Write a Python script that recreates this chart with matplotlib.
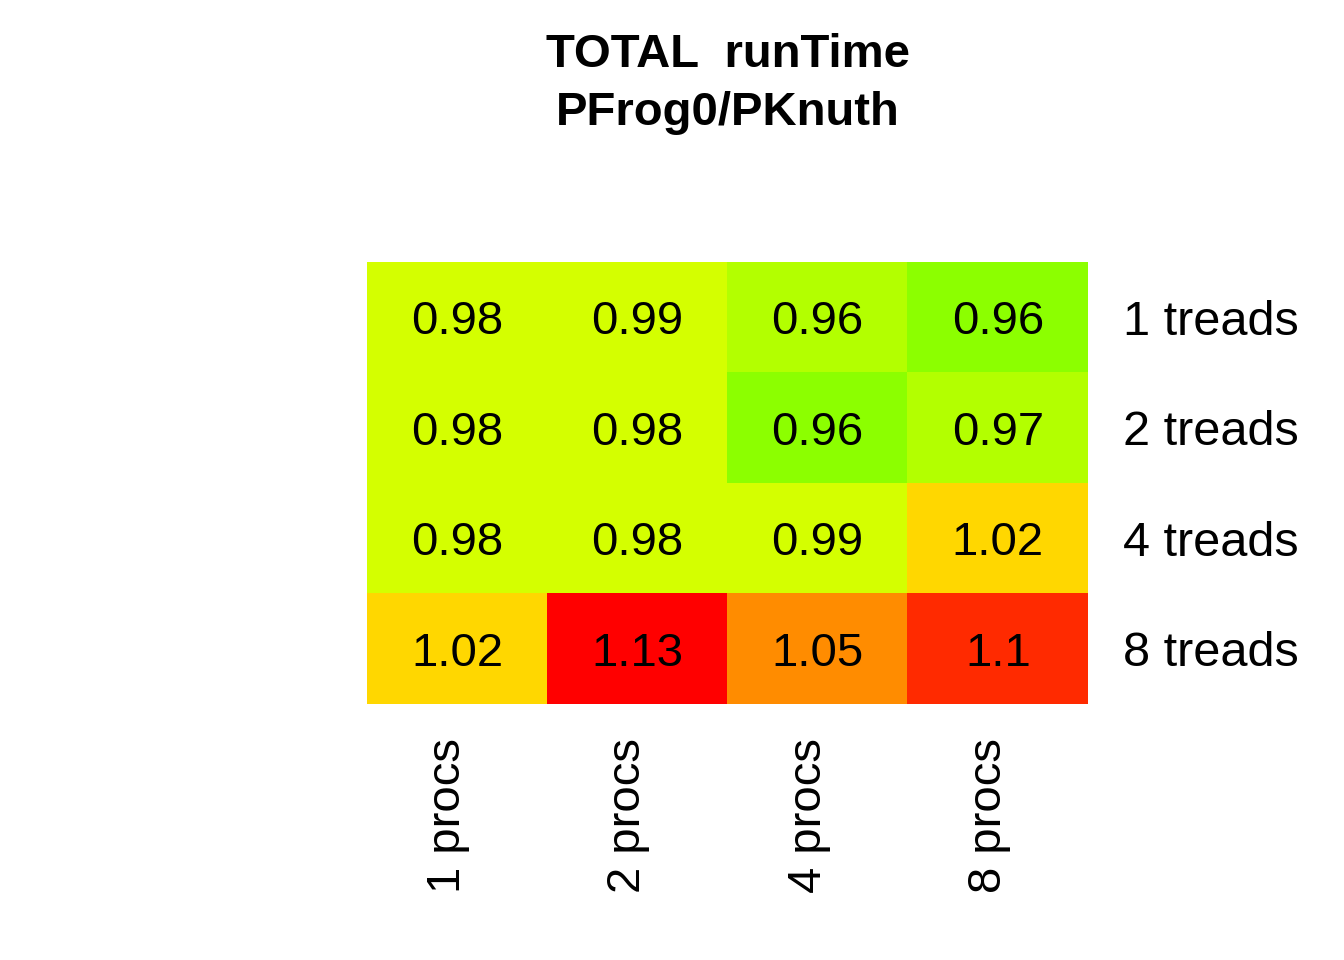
import numpy as np
import matplotlib.pyplot as plt
import matplotlib.transforms as mtransforms
from matplotlib.colors import ListedColormap, BoundaryNorm

plt.rcParams['font.family'] = ['Liberation Sans', 'DejaVu Sans']

# data (rows top->bottom, cols left->right)
procs = ['1 procs', '2 procs', '4 procs', '8 procs']
treads = ['1 treads', '2 treads', '4 treads', '8 treads']
runtime = np.array([
    [0.980, 0.990, 0.962, 0.958],
    [0.980, 0.980, 0.957, 0.970],
    [0.980, 0.980, 0.990, 1.020],
    [1.020, 1.130, 1.050, 1.100],
])

# binned green -> yellow -> red palette
pal = ['#8CFF00', '#B3FF00', '#D4FF00', '#FFD700', '#FF8C00', '#FF2A00', '#FF0000']
bounds = [0.90, 0.96, 0.975, 1.0, 1.03, 1.07, 1.11, 1.20]
cmap = ListedColormap(pal)
norm = BoundaryNorm(bounds, cmap.N)

fig = plt.figure(figsize=(13.44, 9.6), dpi=100)
ax = fig.add_axes([367 / 1344, 1 - 704 / 960, 721 / 1344, 442 / 960])
ax.imshow(runtime, cmap=cmap, norm=norm, aspect='auto', interpolation='nearest')

for i in range(runtime.shape[0]):
    for j in range(runtime.shape[1]):
        ax.text(j, i + 0.155, f'{round(runtime[i, j], 2):g}', ha='center', va='baseline', fontsize=34)

ax.set_xticks(range(len(procs)))
ax.set_xticklabels(procs, rotation=90, fontsize=34, va='top')
ax.set_yticks(range(len(treads)))
ax.set_yticklabels(treads, fontsize=35)
ax.yaxis.tick_right()
ax.tick_params(length=0)
ax.tick_params(axis='x', pad=24.5)
ax.tick_params(axis='y', pad=25)
shift = mtransforms.ScaledTranslation(-9 / 100, 0, fig.dpi_scale_trans)
for lab in ax.get_xticklabels():
    lab.set_transform(lab.get_transform() + shift)
for s in ax.spines.values():
    s.set_visible(False)

fig.text(727.5 / 1344, 1 - 55 / 960, 'TOTAL  runTime', ha='center', va='center',
         fontsize=34, fontweight='bold')
fig.text(727.5 / 1344, 1 - 113 / 960, 'PFrog0/PKnuth', ha='center', va='center',
         fontsize=34, fontweight='bold')

fig.savefig('out.png', dpi=100)
